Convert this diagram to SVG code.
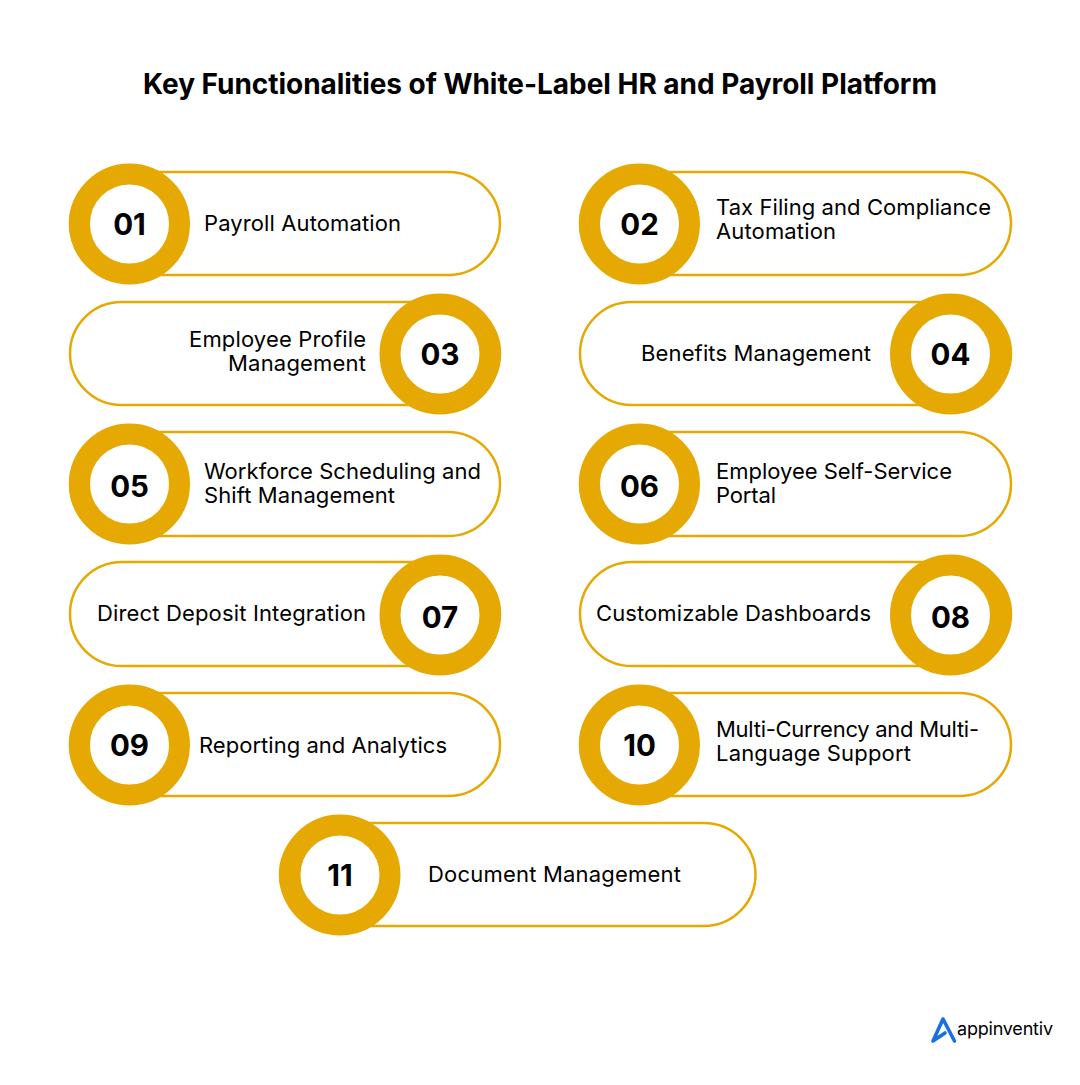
<svg xmlns="http://www.w3.org/2000/svg" width="1080" height="1085" viewBox="0 0 1080 1085">
<style>
text{font-family:Inter,"Liberation Sans",sans-serif;fill:#000}
.pill{fill:#fff;stroke:#e6a903;stroke-width:2.5}
.ring{fill:#fff;stroke:#e6a903;stroke-width:21}
.num{font-size:29.5px;font-weight:700;text-anchor:middle}
.lab{font-size:22px}
</style>
<rect width="1080" height="1085" fill="#fff"/>
<text x="143" y="94" font-size="28" font-weight="700" textLength="794">Key Functionalities of White-Label HR and Payroll Platform</text>
<g id="connectors"/>
<g id="n01"><rect class="pill" x="70" y="172" width="430" height="103" rx="51.5"/><circle class="ring" cx="129.5" cy="224" r="50"/><text class="num" x="129.5" y="235">01</text><text class="lab" x="204" y="231" textLength="197">Payroll Automation</text></g>
<g id="n02"><rect class="pill" x="580" y="172" width="431" height="103" rx="51.5"/><circle class="ring" cx="639.5" cy="224" r="50"/><text class="num" x="639.5" y="235">02</text><text class="lab" x="716" y="215" textLength="275">Tax Filing and Compliance</text><text class="lab" x="716" y="239" textLength="120">Automation</text></g>
<g id="n03"><rect class="pill" x="70" y="302" width="430" height="103" rx="51.5"/><circle class="ring" cx="440" cy="354" r="50"/><text class="num" x="440" y="365">03</text><text class="lab" x="189" y="347" textLength="177">Employee Profile</text><text class="lab" x="228" y="371" textLength="138">Management</text></g>
<g id="n04"><rect class="pill" x="580" y="302" width="431" height="103" rx="51.5"/><circle class="ring" cx="950.5" cy="354" r="50"/><text class="num" x="950.5" y="365">04</text><text class="lab" x="641" y="361" textLength="230">Benefits Management</text></g>
<g id="n05"><rect class="pill" x="70" y="432" width="430" height="104" rx="52"/><circle class="ring" cx="129.5" cy="484" r="50"/><text class="num" x="129.5" y="497">05</text><text class="lab" x="204" y="479" textLength="277">Workforce Scheduling and</text><text class="lab" x="204" y="503" textLength="191">Shift Management</text></g>
<g id="n06"><rect class="pill" x="580" y="432" width="431" height="104" rx="52"/><circle class="ring" cx="639.5" cy="484" r="50"/><text class="num" x="639.5" y="497">06</text><text class="lab" x="716" y="479" textLength="236">Employee Self-Service</text><text class="lab" x="716" y="503" textLength="60">Portal</text></g>
<g id="n07"><rect class="pill" x="70" y="562" width="430" height="104" rx="52"/><circle class="ring" cx="440" cy="615" r="50"/><text class="num" x="440" y="628">07</text><text class="lab" x="97" y="621" textLength="269">Direct Deposit Integration</text></g>
<g id="n08"><rect class="pill" x="580" y="562" width="431" height="104" rx="52"/><circle class="ring" cx="950.5" cy="615" r="50"/><text class="num" x="950.5" y="628">08</text><text class="lab" x="596" y="621" textLength="275">Customizable Dashboards</text></g>
<g id="n09"><rect class="pill" x="70" y="693" width="430" height="103" rx="51.5"/><circle class="ring" cx="129.5" cy="745" r="50"/><text class="num" x="129.5" y="756">09</text><text class="lab" x="199" y="753" textLength="248">Reporting and Analytics</text></g>
<g id="n10"><rect class="pill" x="580" y="693" width="431" height="103" rx="51.5"/><circle class="ring" cx="639.5" cy="745" r="50"/><text class="num" x="639.5" y="756">10</text><text class="lab" x="716" y="737" textLength="263">Multi-Currency and Multi-</text><text class="lab" x="716" y="761" textLength="195">Language Support</text></g>
<g id="n11"><rect class="pill" x="280" y="823" width="475.5" height="103" rx="51.5"/><circle class="ring" cx="340" cy="875" r="50"/><text class="num" x="340" y="886">11</text><text class="lab" x="428" y="882" textLength="253">Document Management</text></g>
<g id="logo"><path d="M945 1033L933 1041L943 1019L954.5 1041" fill="none" stroke="#1a6fe8" stroke-width="3.6" stroke-linejoin="round" stroke-linecap="round"/><text x="957" y="1035" font-size="18" textLength="96">appinventiv</text></g>
</svg>
